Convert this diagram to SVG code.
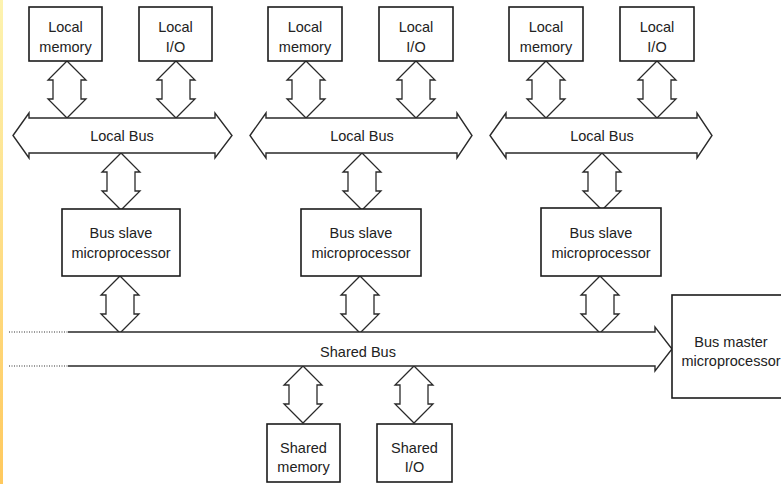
<svg xmlns="http://www.w3.org/2000/svg" xmlns:xlink="http://www.w3.org/1999/xlink" width="781" height="484" viewBox="0 0 781 484">
<style>
.box{fill:#fff;stroke:#1c1c1c;stroke-width:1.6}
.bus{fill:#fff;stroke:#2a2a2a;stroke-width:1.4;stroke-linejoin:miter}
.arr{fill:#fff;stroke:#2a2a2a;stroke-width:1.3;stroke-linejoin:miter}
.dot{fill:none;stroke:#777;stroke-width:1.3;stroke-dasharray:1 1.5}
text{font-family:"Liberation Sans",Arial,sans-serif;font-size:14.5px;fill:#222;text-anchor:middle}
</style>
<defs>
<linearGradient id="strip" x1="0" y1="0" x2="0" y2="1">
<stop offset="0" stop-color="#fdf3b0"/>
<stop offset="1" stop-color="#ffc95e"/>
</linearGradient>
<path id="darrow" d="M0,0 L19,19 L14,19 L14,38 L19,38 L0,57 L-19,38 L-14,38 L-14,19 L-19,19 Z"/>
</defs>
<rect width="781" height="484" fill="#fff"/>
<rect x="0" y="0" width="3" height="484" fill="url(#strip)"/>

<g id="connectors">
<use href="#darrow" class="arr" x="67" y="61"/>
<use href="#darrow" class="arr" x="176" y="61"/>
<use href="#darrow" class="arr" x="306" y="61"/>
<use href="#darrow" class="arr" x="416" y="61"/>
<use href="#darrow" class="arr" x="546" y="61"/>
<use href="#darrow" class="arr" x="657" y="61"/>
<use href="#darrow" class="arr" x="121" y="153"/>
<use href="#darrow" class="arr" x="362" y="153"/>
<use href="#darrow" class="arr" x="602" y="153"/>
<use href="#darrow" class="arr" x="120" y="276"/>
<use href="#darrow" class="arr" x="360" y="276"/>
<use href="#darrow" class="arr" x="600" y="276"/>
<use href="#darrow" class="arr" x="303" y="366"/>
<use href="#darrow" class="arr" x="414" y="366"/>
</g>

<g id="local-memory-1"><rect class="box" x="29" y="7" width="73" height="54"/><text x="65.5" y="32">Local</text><text x="65.5" y="52">memory</text></g>
<g id="local-io-1"><rect class="box" x="139" y="7" width="73" height="54"/><text x="175.5" y="32">Local</text><text x="175.5" y="52">I/O</text></g>
<g id="local-memory-2"><rect class="box" x="268" y="7" width="74" height="54"/><text x="305" y="32">Local</text><text x="305" y="52">memory</text></g>
<g id="local-io-2"><rect class="box" x="379" y="7" width="74" height="54"/><text x="416" y="32">Local</text><text x="416" y="52">I/O</text></g>
<g id="local-memory-3"><rect class="box" x="509" y="7" width="74" height="54"/><text x="546" y="32">Local</text><text x="546" y="52">memory</text></g>
<g id="local-io-3"><rect class="box" x="620" y="7" width="74" height="54"/><text x="657" y="32">Local</text><text x="657" y="52">I/O</text></g>

<g id="local-bus-1"><path class="bus" d="M13,135.5 L29,113 V118 H215 V113 L232,135.5 L215,158 V153 H29 V158 Z"/><text x="122" y="141">Local Bus</text></g>
<g id="local-bus-2"><path class="bus" d="M250,135.5 L266,113 V118 H457 V113 L472,135.5 L457,158 V153 H266 V158 Z"/><text x="362" y="141">Local Bus</text></g>
<g id="local-bus-3"><path class="bus" d="M490,135.5 L506,113 V118 H697 V113 L712,135.5 L697,158 V153 H506 V158 Z"/><text x="602" y="141">Local Bus</text></g>

<g id="bus-slave-1"><rect class="box" x="62" y="209" width="118" height="67"/><text x="121" y="238">Bus slave</text><text x="121" y="258">microprocessor</text></g>
<g id="bus-slave-2"><rect class="box" x="301" y="209" width="120" height="67"/><text x="361" y="238">Bus slave</text><text x="361" y="258">microprocessor</text></g>
<g id="bus-slave-3"><rect class="box" x="541" y="208" width="120" height="68"/><text x="601" y="238">Bus slave</text><text x="601" y="258">microprocessor</text></g>

<g id="shared-bus">
<path class="dot" d="M9,332 H68 M9,366 H68"/>
<path class="bus" d="M68,332 H655 V327 L672,349 L655,371 V366 H68"/>
<text x="358" y="357">Shared Bus</text>
</g>

<g id="bus-master"><rect class="box" x="672" y="295" width="130" height="103"/><text x="731" y="347">Bus master</text><text x="731" y="366">microprocessor</text></g>

<g id="shared-memory"><rect class="box" x="267" y="424" width="73" height="58"/><text x="303.5" y="453">Shared</text><text x="303.5" y="472">memory</text></g>
<g id="shared-io"><rect class="box" x="377" y="424" width="75" height="58"/><text x="414.5" y="453">Shared</text><text x="414.5" y="472">I/O</text></g>
</svg>
